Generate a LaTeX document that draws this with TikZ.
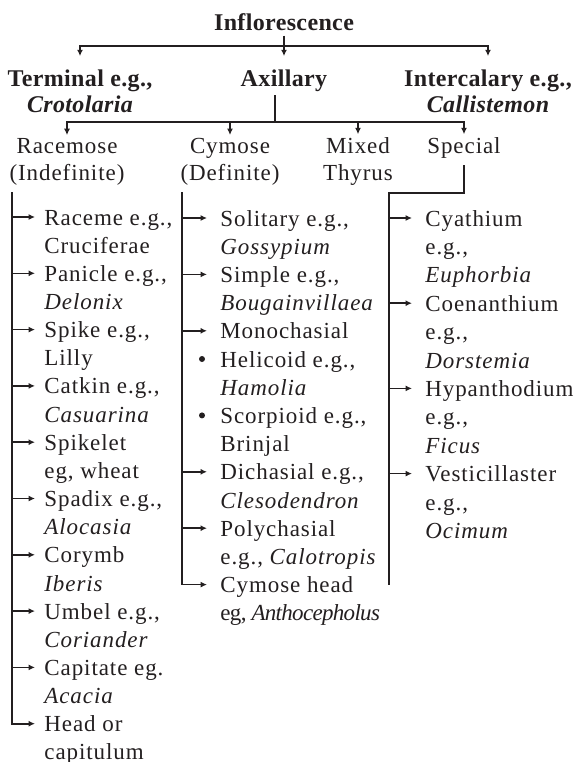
\documentclass[tikz,border=0pt]{standalone}
\usepackage{fontspec}
\setmainfont{Liberation Serif}
\newfontfamily\itemfont{Liberation Serif}[LetterSpace=4]
\newfontfamily\titlefont{Liberation Serif}[LetterSpace=1.5]
\newfontfamily\tightfont{Liberation Serif}[LetterSpace=-3]
\usetikzlibrary{arrows.meta}
\definecolor{ink}{RGB}{35,31,32}

\tikzset{
	title/.style={font=\titlefont\bfseries\fontsize{12}{14}\selectfont, inner sep=0pt, anchor=base},
	kind/.style={font=\itemfont\fontsize{11.5}{14}\selectfont, inner sep=0pt, anchor=base},
	leaf/.style={font=\itemfont\fontsize{11.5}{14}\selectfont, inner xsep=6.5pt, inner ysep=0pt,
		text height=8pt, text depth=0pt, anchor=base west},
	link/.style={line width=0.8pt},
	arr/.style={link, -{Latex[length=3.2pt,width=3pt]}},
}

\begin{document}
\begin{tikzpicture}[x=0.5pt, y=-0.5pt, color=ink]
\useasboundingbox (0,0) rectangle (577,762);

% Primer nivel
\node[title] (infl) at (284,30) {Inflorescence};
\node[title] (term) at (80,86) {Terminal e.g.,};
\node[title] (term-eg) at (80,112) {\itshape Crotolaria};
\node[title] (axil) at (284,86) {Axillary};
\node[title] (inter) at (488,86) {Intercalary e.g.,};
\node[title] (inter-eg) at (488,112) {\itshape Callistemon};

\coordinate (fork1) at (284,46);
\draw[arr, shorten <=2.5pt, shorten >=6.4pt] (infl) -- (axil);
\draw[arr, shorten >=6.4pt] (fork1) -| (term);
\draw[arr, shorten >=6.4pt] (fork1) -| (inter);

% Segundo nivel
\node[kind] (race) at (67,153) {Racemose};
\node[kind] (race-def) at (67,180) {(Indefinite)};
\node[kind] (cyme) at (230,153) {Cymose};
\node[kind] (cyme-def) at (230,180) {(Definite)};
\node[kind] (mixed) at (358,153) {Mixed};
\node[kind] (thyrus) at (358,180) {Thyrus};
\node[kind] (spec) at (464,153) {Special};

\coordinate (fork2) at (275,122);
\draw[link, shorten <=1.9pt] (fork2 |- axil.south) -- (fork2);
\foreach \nm in {race, cyme, mixed, spec}
	\draw[arr, shorten >=1.2pt] (fork2) -| (\nm);

% Racemose
\coordinate (racetop) at (12,192);
\foreach \nm/\first/\second [count=\i from 0] in {
		raceme/{Raceme e.g.,}/Cruciferae,
		panicle/{Panicle e.g.,}/\textit{Delonix},
		spike/{Spike e.g.,}/Lilly,
		catkin/{Catkin e.g.,}/\textit{Casuarina},
		spikelet/Spikelet/{eg, wheat},
		spadix/{Spadix e.g.,}/\textit{Alocasia},
		corymb/Corymb/\textit{Iberis},
		umbel/{Umbel e.g.,}/\textit{Coriander},
		capitate/{Capitate eg.}/\textit{Acacia},
		heador/{Head or}/capitulum}
{
	\node[leaf, inner xsep=4.5pt] (\nm) at (35,225+56.3*\i) {\first};
	\node[leaf, inner xsep=4.5pt] (\nm-eg) at (35,253.2+56.3*\i) {\second};
}
\foreach \nm in {raceme, panicle, spike, catkin, spikelet, spadix, corymb, umbel, capitate}
	\draw[arr] (racetop |- \nm) -- (\nm);
\draw[arr] (racetop) |- (heador);

% Cymose
\coordinate (cymtop) at (182,192);
\foreach \nm/\txt/\k in {
		solitary/{Solitary e.g.,}/0, solitary-eg/\textit{Gossypium}/1,
		simple/{Simple e.g.,}/2, simple-eg/\textit{Bougainvillaea}/3,
		mono/Monochasial/4,
		helicoid/{Helicoid e.g.,}/5, helicoid-eg/\textit{Hamolia}/6,
		scorpioid/{Scorpioid e.g.,}/7, scorpioid-eg/Brinjal/8,
		dichasial/{Dichasial e.g.,}/9, dichasial-eg/\textit{Clesodendron}/10,
		poly/Polychasial/11, poly-eg/{e.g., \textit{Calotropis}}/12,
		cymhead/{Cymose head}/13, cymhead-eg/{\tightfont eg, \textit{Anthocepholus}}/14}
	\node[leaf] (\nm) at (207,226+28.2*\k) {\txt};
\foreach \nm in {solitary, simple, mono, dichasial, poly}
	\draw[arr] (cymtop |- \nm) -- (\nm);
\draw[arr] (cymtop) |- (cymhead);
\foreach \nm in {helicoid, scorpioid}
	\fill ([xshift=-2.5pt]\nm.west) circle[radius=1.5pt];

% Special
\coordinate (spturn) at (389,193);
\coordinate (spend) at (389,585);
\draw[link, shorten <=3.5pt] (spec) |- (spturn) -- (spend);
\foreach \nm/\first/\third [count=\i from 0] in {
		cyathium/Cyathium/Euphorbia,
		coenanthium/Coenanthium/Dorstemia,
		hypanthodium/Hypanthodium/Ficus,
		vesticillaster/Vesticillaster/Ocimum}
{
	\node[leaf] (\nm) at (412,226+85.2*\i) {\first};
	\node[leaf] (\nm-eg) at (412,254.4+85.2*\i) {e.g.,};
	\node[leaf] (\nm-sp) at (412,282.8+85.2*\i) {\textit{\third}};
	\draw[arr] (spturn |- \nm) -- (\nm);
}

\end{tikzpicture}
\end{document}
